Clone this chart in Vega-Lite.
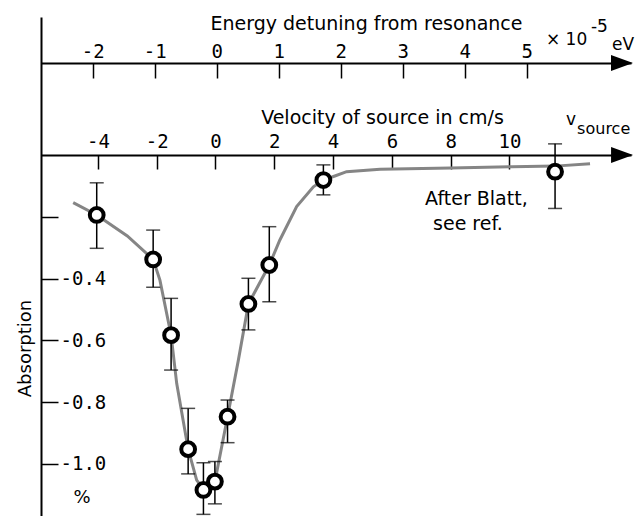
{
  "$schema": "https://vega.github.io/schema/vega-lite/v6.json",
  "width": 590,
  "height": 499,
  "autosize": {"type": "none"},
  "padding": {"left": 41, "top": 17, "right": 7, "bottom": 0},
  "background": "white",
  "config": {
    "view": {"stroke": null},
    "font": "DejaVu Sans",
    "axis": {
      "grid": false,
      "domainColor": "black",
      "domainWidth": 2,
      "tickColor": "black",
      "tickWidth": 1.5,
      "labelColor": "black",
      "titleColor": "black",
      "labelFont": "DejaVu Sans Mono",
      "titleFont": "DejaVu Sans",
      "titleFontWeight": "normal",
      "labelOverlap": false,
      "labelFlush": false
    }
  },
  "datasets": {
    "points": [
      {"v": -4.04, "y": -0.194, "lo": -0.302, "hi": -0.090},
      {"v": -2.12, "y": -0.338, "lo": -0.428, "hi": -0.243},
      {"v": -1.51, "y": -0.583, "lo": -0.696, "hi": -0.464},
      {"v": -0.93, "y": -0.952, "lo": -1.032, "hi": -0.820},
      {"v": -0.41, "y": -1.084, "lo": -1.163, "hi": -0.996},
      {"v": -0.02, "y": -1.057, "lo": -1.129, "hi": -0.992},
      {"v": 0.41, "y": -0.847, "lo": -0.931, "hi": -0.793},
      {"v": 1.12, "y": -0.482, "lo": -0.566, "hi": -0.399},
      {"v": 1.83, "y": -0.356, "lo": -0.475, "hi": -0.232},
      {"v": 3.67, "y": -0.081, "lo": -0.129, "hi": -0.032},
      {"v": 11.55, "y": -0.054, "lo": -0.173, "hi": 0.036}
    ],
    "curve": [
      {"v": -4.84, "y": -0.154},
      {"v": -4.04, "y": -0.194},
      {"v": -3.0, "y": -0.262},
      {"v": -2.12, "y": -0.338},
      {"v": -1.89, "y": -0.405},
      {"v": -1.51, "y": -0.583},
      {"v": -1.32, "y": -0.739},
      {"v": -0.93, "y": -0.952},
      {"v": -0.64, "y": -1.052},
      {"v": -0.30, "y": -1.095},
      {"v": -0.02, "y": -1.057},
      {"v": 0.41, "y": -0.847},
      {"v": 0.78, "y": -0.663},
      {"v": 1.12, "y": -0.482},
      {"v": 1.83, "y": -0.356},
      {"v": 2.19, "y": -0.275},
      {"v": 2.76, "y": -0.167},
      {"v": 3.33, "y": -0.103},
      {"v": 3.67, "y": -0.081},
      {"v": 4.06, "y": -0.068},
      {"v": 4.46, "y": -0.054},
      {"v": 5.6, "y": -0.046},
      {"v": 8.0, "y": -0.042},
      {"v": 10.1, "y": -0.038},
      {"v": 11.55, "y": -0.036},
      {"v": 12.74, "y": -0.028}
    ],
    "notes": [
      {"label": "After Blatt,", "v": 7.13, "y": -0.162},
      {"label": "see ref.", "v": 7.40, "y": -0.243}
    ],
    "units": [
      {"label": "× 10", "v": 11.24, "y": 0.356},
      {"label": "-5", "v": 12.77, "y": 0.398},
      {"label": "eV", "v": 13.49, "y": 0.340}
    ],
    "vsym": [
      {"label": "v", "v": 11.92, "y": 0.098}
    ],
    "vsub": [
      {"label": "source", "v": 12.30, "y": 0.068}
    ],
    "percent": [
      {"label": "%", "v": -4.54, "y": -1.126}
    ],
    "velocityArrow": [{"v": 13.83, "y": 0}],
    "energyArrow": [{"e": 6.537, "y": 0.2977}]
  },
  "layer": [
    {
      "layer": [
        {
          "data": {"name": "curve"},
          "mark": {"type": "line", "stroke": "#858585", "strokeWidth": 3},
          "encoding": {
            "x": {
              "field": "v", "type": "quantitative",
              "scale": {"domain": [-5.935, 14.133], "nice": false, "zero": false},
              "axis": {
                "orient": "top",
                "offset": -138,
                "values": [-4, -2, 0, 2, 4, 6, 8, 10],
                "tickSize": -14,
                "labelFontSize": 19,
                "labelPadding": 21.5,
                "labelBaseline": "alphabetic",
                "labelAlign": "center",
                "labelExpr": "datum.value < 0 ? '-' + format(-datum.value, 'd') : format(datum.value, 'd')",
                "title": "Velocity of source in cm/s",
                "titleFontSize": 19,
                "titleX": 341,
                "titleY": -32,
                "titleAlign": "center",
                "titleBaseline": "alphabetic"
              }
            },
            "y": {
              "field": "y", "type": "quantitative",
              "scale": {"domain": [-1.1683, 0.4466], "nice": false, "zero": false},
              "axis": {
                "orient": "left",
                "values": [-0.2, -0.4, -0.6, -0.8, -1.0],
                "tickSize": -17,
                "labelPadding": -2,
                "labelAlign": "left",
                "labelBaseline": "middle",
                "labelFontSize": 19,
                "labelExpr": "datum.value < -0.3 ? '-' + format(-datum.value, '.1f') : ''",
                "title": "Absorption",
                "titleFontSize": 18,
                "titleAngle": -90,
                "titleX": -16,
                "titleY": 331,
                "titleAlign": "center",
                "titleBaseline": "middle"
              }
            }
          }
        },
        {
          "data": {"name": "points"},
          "mark": {"type": "rule", "color": "black", "strokeWidth": 1.5},
          "encoding": {
            "x": {"field": "v", "type": "quantitative"},
            "y": {"field": "lo", "type": "quantitative"},
            "y2": {"field": "hi"}
          }
        },
        {
          "data": {"name": "points"},
          "mark": {"type": "tick", "orient": "horizontal", "color": "black", "size": 14, "thickness": 1.5},
          "encoding": {
            "x": {"field": "v", "type": "quantitative"},
            "y": {"field": "lo", "type": "quantitative"}
          }
        },
        {
          "data": {"name": "points"},
          "mark": {"type": "tick", "orient": "horizontal", "color": "black", "size": 14, "thickness": 1.5},
          "encoding": {
            "x": {"field": "v", "type": "quantitative"},
            "y": {"field": "hi", "type": "quantitative"}
          }
        },
        {
          "data": {"name": "points"},
          "mark": {"type": "point", "shape": "circle", "filled": false, "fill": "white", "fillOpacity": 1, "stroke": "black", "strokeWidth": 4, "size": 190, "opacity": 1},
          "encoding": {
            "x": {"field": "v", "type": "quantitative"},
            "y": {"field": "y", "type": "quantitative"}
          }
        },
        {
          "data": {"name": "velocityArrow"},
          "mark": {"type": "point", "shape": "M-1,-0.73L1,0L-1,0.73Z", "filled": true, "color": "black", "size": 484, "opacity": 1},
          "encoding": {
            "x": {"field": "v", "type": "quantitative"},
            "y": {"field": "y", "type": "quantitative"}
          }
        },
        {
          "data": {"name": "notes"},
          "mark": {"type": "text", "align": "left", "baseline": "alphabetic", "fontSize": 19, "color": "black", "font": "DejaVu Sans"},
          "encoding": {
            "x": {"field": "v", "type": "quantitative"},
            "y": {"field": "y", "type": "quantitative"},
            "text": {"field": "label"}
          }
        },
        {
          "data": {"name": "units"},
          "mark": {"type": "text", "align": "left", "baseline": "alphabetic", "fontSize": 17, "color": "black", "font": "DejaVu Sans"},
          "encoding": {
            "x": {"field": "v", "type": "quantitative"},
            "y": {"field": "y", "type": "quantitative"},
            "text": {"field": "label"}
          }
        },
        {
          "data": {"name": "vsym"},
          "mark": {"type": "text", "align": "left", "baseline": "alphabetic", "fontSize": 17, "color": "black", "font": "DejaVu Sans"},
          "encoding": {
            "x": {"field": "v", "type": "quantitative"},
            "y": {"field": "y", "type": "quantitative"},
            "text": {"field": "label"}
          }
        },
        {
          "data": {"name": "vsub"},
          "mark": {"type": "text", "align": "left", "baseline": "alphabetic", "fontSize": 16, "color": "black", "font": "DejaVu Sans"},
          "encoding": {
            "x": {"field": "v", "type": "quantitative"},
            "y": {"field": "y", "type": "quantitative"},
            "text": {"field": "label"}
          }
        },
        {
          "data": {"name": "percent"},
          "mark": {"type": "text", "align": "center", "baseline": "alphabetic", "fontSize": 18, "color": "black", "font": "DejaVu Sans"},
          "encoding": {
            "x": {"field": "v", "type": "quantitative"},
            "y": {"field": "y", "type": "quantitative"},
            "text": {"field": "label"}
          }
        }
      ]
    },
    {
      "data": {"name": "energyArrow"},
      "mark": {"type": "point", "shape": "M-1,-0.73L1,0L-1,0.73Z", "filled": true, "color": "black", "size": 484, "opacity": 1},
      "encoding": {
        "x": {
          "field": "e", "type": "quantitative",
          "scale": {"domain": [-2.834, 6.682], "nice": false, "zero": false},
          "axis": {
            "orient": "top",
            "offset": -46,
            "values": [-2, -1, 0, 1, 2, 3, 4, 5],
            "tickSize": -15,
            "labelFontSize": 19,
            "labelPadding": 21,
            "labelBaseline": "alphabetic",
            "labelAlign": "center",
            "labelExpr": "datum.value < 0 ? '-' + format(-datum.value, 'd') : format(datum.value, 'd')",
            "title": "Energy detuning from resonance",
            "titleFontSize": 19,
            "titleX": 325,
            "titleY": -34,
            "titleAlign": "center",
            "titleBaseline": "alphabetic"
          }
        },
        "y": {"field": "y", "type": "quantitative"}
      }
    }
  ],
  "resolve": {"scale": {"x": "independent"}, "axis": {"x": "independent"}}
}
